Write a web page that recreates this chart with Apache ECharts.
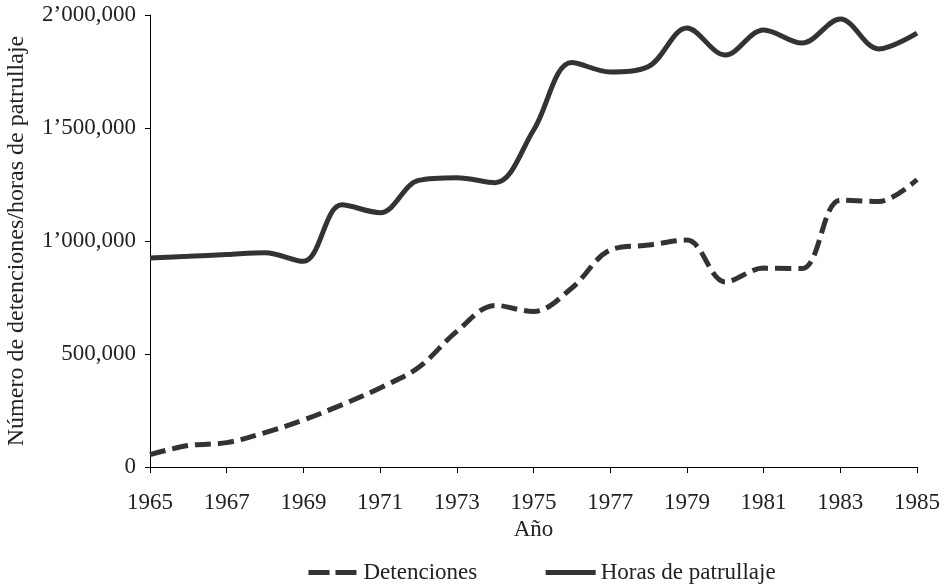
<!DOCTYPE html>
<html>
<head>
<meta charset="utf-8">
<script src="https://cdn.jsdelivr.net/npm/echarts@6/dist/echarts.min.js"></script>
<style>
  html, body { margin: 0; padding: 0; background: #fff; }
  #main { width: 945px; height: 585px; }
</style>
</head>
<body>
<div id="main"></div>
<script>
// años
var years = ['1965', '1966', '1967', '1968', '1969', '1970', '1971', '1972', '1973', '1974', '1975',
  '1976', '1977', '1978', '1979', '1980', '1981', '1982', '1983', '1984', '1985'];
// detenciones
var detenciones = [55000, 95000, 108000, 152000, 208000, 275000, 350000, 440000, 600000, 715000, 688000,
  792000, 960000, 982000, 1004000, 819000, 880000, 878000, 1181000, 1175000, 1272000];
// horas de patrullaje
var horas = [925000, 932000, 940000, 948000, 910000, 1160000, 1125000, 1268000, 1280000, 1258000, 1490000,
  1790000, 1748000, 1772000, 1942000, 1823000, 1934000, 1876000, 1982000, 1850000, 1920000];

var fuente = 'Liberation Serif';
var gris = '#333333';

var myChart = echarts.init(document.getElementById('main'));

// 2000000 -> 2’000,000
function formato(v) {
  var s = String(Math.round(v));
  var partes = [];
  while (s.length > 3) {
    partes.unshift(s.slice(-3));
    s = s.slice(0, -3);
  }
  partes.unshift(s);
  if (partes.length === 3) return partes[0] + '\u2019' + partes[1] + ',' + partes[2];
  return partes.join(',');
}

var option = {
  animation: false,
  textStyle: { fontFamily: fuente },
  grid: { left: 150, right: 28, top: 15, bottom: 118, outerBoundsMode: 'none' },
  legend: {
    top: 556,
    left: 301,
    itemWidth: 50,
    itemHeight: 14,
    itemGap: 66,
    itemStyle: { opacity: 0 },
    lineStyle: { width: 5 },
    textStyle: { fontFamily: fuente, fontSize: 23, color: '#222' },
    data: [
      { name: 'Detenciones', lineStyle: { width: 5, type: [21, 6] } },
      { name: 'Horas de patrullaje', lineStyle: { width: 5 } }
    ]
  },
  xAxis: {
    type: 'category',
    boundaryGap: false,
    data: years,
    name: 'Año',
    nameLocation: 'middle',
    nameGap: 51,
    nameTextStyle: { fontFamily: fuente, fontSize: 23, color: '#222' },
    axisLine: { lineStyle: { color: '#000', width: 1 } },
    axisTick: { interval: 1, length: 6, lineStyle: { color: '#000' } },
    axisLabel: { interval: 1, margin: 24, fontFamily: fuente, fontSize: 23, color: '#222' },
    splitLine: { show: false }
  },
  yAxis: {
    type: 'value',
    min: 0,
    max: 2000000,
    interval: 500000,
    name: 'Número de detenciones/horas de patrullaje',
    nameLocation: 'middle',
    nameGap: 121,
    nameTextStyle: { fontFamily: fuente, fontSize: 24, color: '#222' },
    axisLine: { show: true, lineStyle: { color: '#000', width: 1 } },
    axisTick: { show: true, length: 5, lineStyle: { color: '#000' } },
    axisLabel: { margin: 14, fontFamily: fuente, fontSize: 23, color: '#222', formatter: formato },
    splitLine: { show: false }
  },
  series: [
    {
      name: 'Detenciones',
      type: 'line',
      smooth: 0.35,
      symbol: 'none',
      data: detenciones,
      color: gris,
      lineStyle: { color: gris, width: 5, type: [16, 7] }
    },
    {
      name: 'Horas de patrullaje',
      type: 'line',
      smooth: 0.35,
      symbol: 'none',
      data: horas,
      color: gris,
      lineStyle: { color: gris, width: 5 }
    }
  ]
};

myChart.setOption(option);
</script>
</body>
</html>
